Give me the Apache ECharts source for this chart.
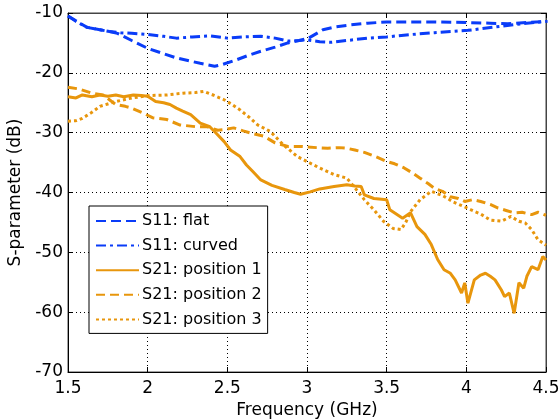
<!DOCTYPE html>
<html>
<head>
<meta charset="utf-8">
<script src="https://cdn.jsdelivr.net/npm/echarts@6/dist/echarts.min.js"></script>
<style>html,body{margin:0;padding:0;background:#fff}#c{width:559px;height:419px}</style>
</head>
<body>
<div id="c"></div>
<script>
const seriesNames = ['S11: flat', 'S11: curved', 'S21: position 1', 'S21: position 2', 'S21: position 3'];
const xTicks = [1.5, 2, 2.5, 3, 3.5, 4, 4.5];
const yTicks = [-70, -60, -50, -40, -30, -20, -10];

const fFlat = [1.5,1.55,1.62,1.7,1.76,1.81,1.9,2.0,2.1,2.18,2.26,2.33,2.42,2.47,2.56,2.63,2.71,2.8,2.88,2.95,3.01,3.1,3.18,3.27,3.38,3.5,3.65,3.8,4.01,4.15,4.26,4.38,4.51];
const dbFlat = [-10.5,-11.3,-12.4,-12.8,-13.1,-13.4,-14.6,-15.9,-16.8,-17.5,-18.0,-18.4,-18.9,-18.6,-17.8,-17.1,-16.4,-15.7,-15.0,-14.6,-14.2,-12.8,-12.3,-12.0,-11.7,-11.5,-11.5,-11.5,-11.6,-11.7,-11.8,-11.6,-11.4];

const fCurved = [1.5,1.55,1.62,1.7,1.76,1.83,1.9,2.0,2.1,2.18,2.28,2.39,2.5,2.6,2.71,2.8,2.88,2.95,3.0,3.08,3.15,3.25,3.38,3.5,3.65,3.8,4.01,4.1,4.22,4.35,4.5];
const dbCurved = [-10.5,-11.4,-12.4,-12.8,-13.1,-13.3,-13.4,-13.6,-13.9,-14.2,-14.0,-13.8,-14.2,-14.0,-13.9,-14.2,-14.7,-14.6,-14.5,-14.8,-14.9,-14.6,-14.2,-14.0,-13.6,-13.3,-12.9,-12.6,-12.2,-11.8,-11.4];

const fPos1 = [1.5,1.55,1.59,1.65,1.7,1.75,1.8,1.85,1.91,1.96,2.0,2.05,2.1,2.14,2.18,2.22,2.27,2.33,2.39,2.43,2.48,2.52,2.58,2.62,2.66,2.71,2.78,2.86,2.92,2.96,3.02,3.08,3.17,3.25,3.3,3.34,3.36,3.42,3.5,3.52,3.56,3.6,3.65,3.69,3.74,3.78,3.82,3.86,3.9,3.93,3.97,3.99,4.01,4.05,4.09,4.12,4.15,4.18,4.22,4.24,4.27,4.3,4.33,4.36,4.38,4.41,4.45,4.48,4.5];
const dbPos1 = [-24.0,-24.2,-23.7,-24.0,-23.7,-23.9,-23.7,-24.0,-23.7,-23.8,-23.9,-24.8,-25.0,-25.3,-25.9,-26.4,-27.0,-28.4,-29.0,-30.1,-31.5,-32.9,-34.0,-35.4,-36.5,-37.9,-38.8,-39.5,-40.0,-40.3,-39.9,-39.4,-39.0,-38.7,-38.9,-39.0,-40.4,-41.0,-41.2,-42.9,-43.6,-44.3,-43.4,-45.7,-47.0,-48.7,-51.2,-52.9,-53.5,-54.6,-56.8,-55.1,-58.5,-54.6,-53.8,-53.5,-54.0,-54.6,-56.3,-57.4,-56.8,-60.2,-55.1,-56.0,-54.0,-52.4,-52.9,-50.7,-51.3];

const fPos2 = [1.5,1.57,1.65,1.72,1.76,1.8,1.86,1.9,1.97,2.03,2.12,2.2,2.3,2.37,2.44,2.48,2.54,2.6,2.65,2.73,2.8,2.88,2.96,3.06,3.13,3.2,3.25,3.3,3.36,3.43,3.5,3.55,3.61,3.66,3.71,3.76,3.8,3.85,3.9,3.95,3.99,4.04,4.09,4.15,4.2,4.25,4.3,4.35,4.41,4.45,4.5];
const dbPos2 = [-22.4,-22.7,-23.4,-23.7,-24.5,-25.3,-25.6,-25.9,-26.7,-27.5,-27.8,-28.7,-29.0,-29.0,-29.6,-29.5,-29.2,-29.7,-30.1,-30.6,-31.7,-32.3,-32.3,-32.5,-32.6,-32.5,-32.6,-32.9,-33.3,-34.0,-34.8,-35.2,-35.9,-36.7,-37.6,-38.5,-39.3,-39.8,-40.7,-41.0,-41.5,-41.2,-41.5,-42.0,-42.6,-43.0,-43.4,-43.3,-43.7,-43.3,-43.8];

const fPos3 = [1.5,1.55,1.59,1.65,1.7,1.75,1.8,1.9,2.01,2.12,2.22,2.3,2.35,2.41,2.48,2.53,2.58,2.64,2.69,2.77,2.85,2.94,3.02,3.08,3.17,3.25,3.3,3.36,3.42,3.48,3.54,3.59,3.62,3.65,3.71,3.78,3.85,3.92,3.98,4.03,4.09,4.15,4.22,4.28,4.33,4.37,4.41,4.45,4.5];
const dbPos3 = [-28.1,-28.0,-27.6,-26.6,-25.6,-25.2,-24.8,-24.2,-23.8,-23.7,-23.4,-23.3,-23.1,-23.7,-24.5,-25.3,-26.2,-27.5,-28.7,-29.8,-32.0,-34.0,-35.1,-35.9,-37.0,-37.6,-39.2,-41.2,-42.9,-44.8,-46.0,-46.2,-45.0,-43.2,-41.2,-39.8,-40.5,-41.6,-42.3,-42.9,-43.6,-44.6,-44.8,-44.0,-44.8,-45.1,-46.2,-47.9,-48.8];

const BLUE = '#0a3cf8';
const ORANGE = '#e8960c';
const FONT = 'DejaVu Sans';

function pairs(xs, ys) { return xs.map((x, i) => [x, ys[i]]); }

const seriesDefs = [
  { data: pairs(fFlat, dbFlat), color: BLUE, type: [10, 5] },
  { data: pairs(fCurved, dbCurved), color: BLUE, type: [10, 4, 3, 4] },
  { data: pairs(fPos1, dbPos1), color: ORANGE, type: 'solid' },
  { data: pairs(fPos2, dbPos2), color: ORANGE, type: [9, 5] },
  { data: pairs(fPos3, dbPos3), color: ORANGE, type: [3, 3] }
];

const chart = echarts.init(document.getElementById('c'), null, { renderer: 'canvas' });

const gridLine = { show: true, lineStyle: { color: '#000', width: 1, type: [1, 3] } };

chart.setOption({
  animation: false,
  backgroundColor: '#fff',
  textStyle: { fontFamily: FONT },
  grid: { left: 68, right: 13, top: 13, bottom: 47, show: true, borderColor: '#444', borderWidth: 1, outerBoundsMode: 'none', containLabel: false },
  legend: {
    data: seriesNames,
    orient: 'vertical',
    left: 89,
    top: 206,
    itemWidth: 43,
    itemHeight: 16,
    itemGap: 8.6,
    padding: [7, 6, 6, 6],
    borderColor: '#000',
    borderWidth: 1,
    backgroundColor: '#fff',
    itemStyle: { opacity: 0, borderWidth: 0 },
    textStyle: { fontFamily: FONT, fontSize: 16, color: '#000', padding: [0, 0, 0, -2] }
  },
  xAxis: [{
    type: 'value', min: xTicks[0], max: xTicks[xTicks.length - 1], interval: 0.5,
    name: 'Frequency (GHz)', nameLocation: 'middle', nameGap: 26,
    nameTextStyle: { fontFamily: FONT, fontSize: 17, color: '#000' },
    axisLine: { show: true, lineStyle: { color: '#000' } },
    axisTick: { show: true, inside: true, length: 5, lineStyle: { color: '#000' } },
    axisLabel: { color: '#000', fontFamily: FONT, fontSize: 17, margin: 8 },
    splitLine: gridLine
  }, {
    type: 'value', position: 'top', min: xTicks[0], max: xTicks[xTicks.length - 1], interval: 0.5,
    axisLine: { show: true, lineStyle: { color: '#444' } },
    axisTick: { show: true, inside: true, length: 5, lineStyle: { color: '#000' } },
    axisLabel: { show: false }, splitLine: { show: false }
  }],
  yAxis: [{
    type: 'value', min: yTicks[0], max: yTicks[yTicks.length - 1], interval: 10,
    name: 'S-parameter (dB)', nameLocation: 'middle', nameGap: 38,
    nameTextStyle: { fontFamily: FONT, fontSize: 17, color: '#000' },
    axisLine: { show: true, lineStyle: { color: '#000' } },
    axisTick: { show: true, inside: true, length: 5, lineStyle: { color: '#000' } },
    axisLabel: { color: '#000', fontFamily: FONT, fontSize: 17, margin: 5 },
    splitLine: gridLine
  }, {
    type: 'value', position: 'right', min: yTicks[0], max: yTicks[yTicks.length - 1], interval: 10,
    axisLine: { show: true, lineStyle: { color: '#444' } },
    axisTick: { show: true, inside: true, length: 5, lineStyle: { color: '#000' } },
    axisLabel: { show: false }, splitLine: { show: false }
  }],
  series: seriesDefs.map((s, i) => ({
    name: seriesNames[i],
    type: 'line',
    data: s.data,
    showSymbol: false,
    symbol: 'none',
    smooth: false,
    color: s.color,
    lineStyle: { color: s.color, width: 3, type: s.type },
    z: 5 - i
  }))
});
</script>
</body>
</html>
